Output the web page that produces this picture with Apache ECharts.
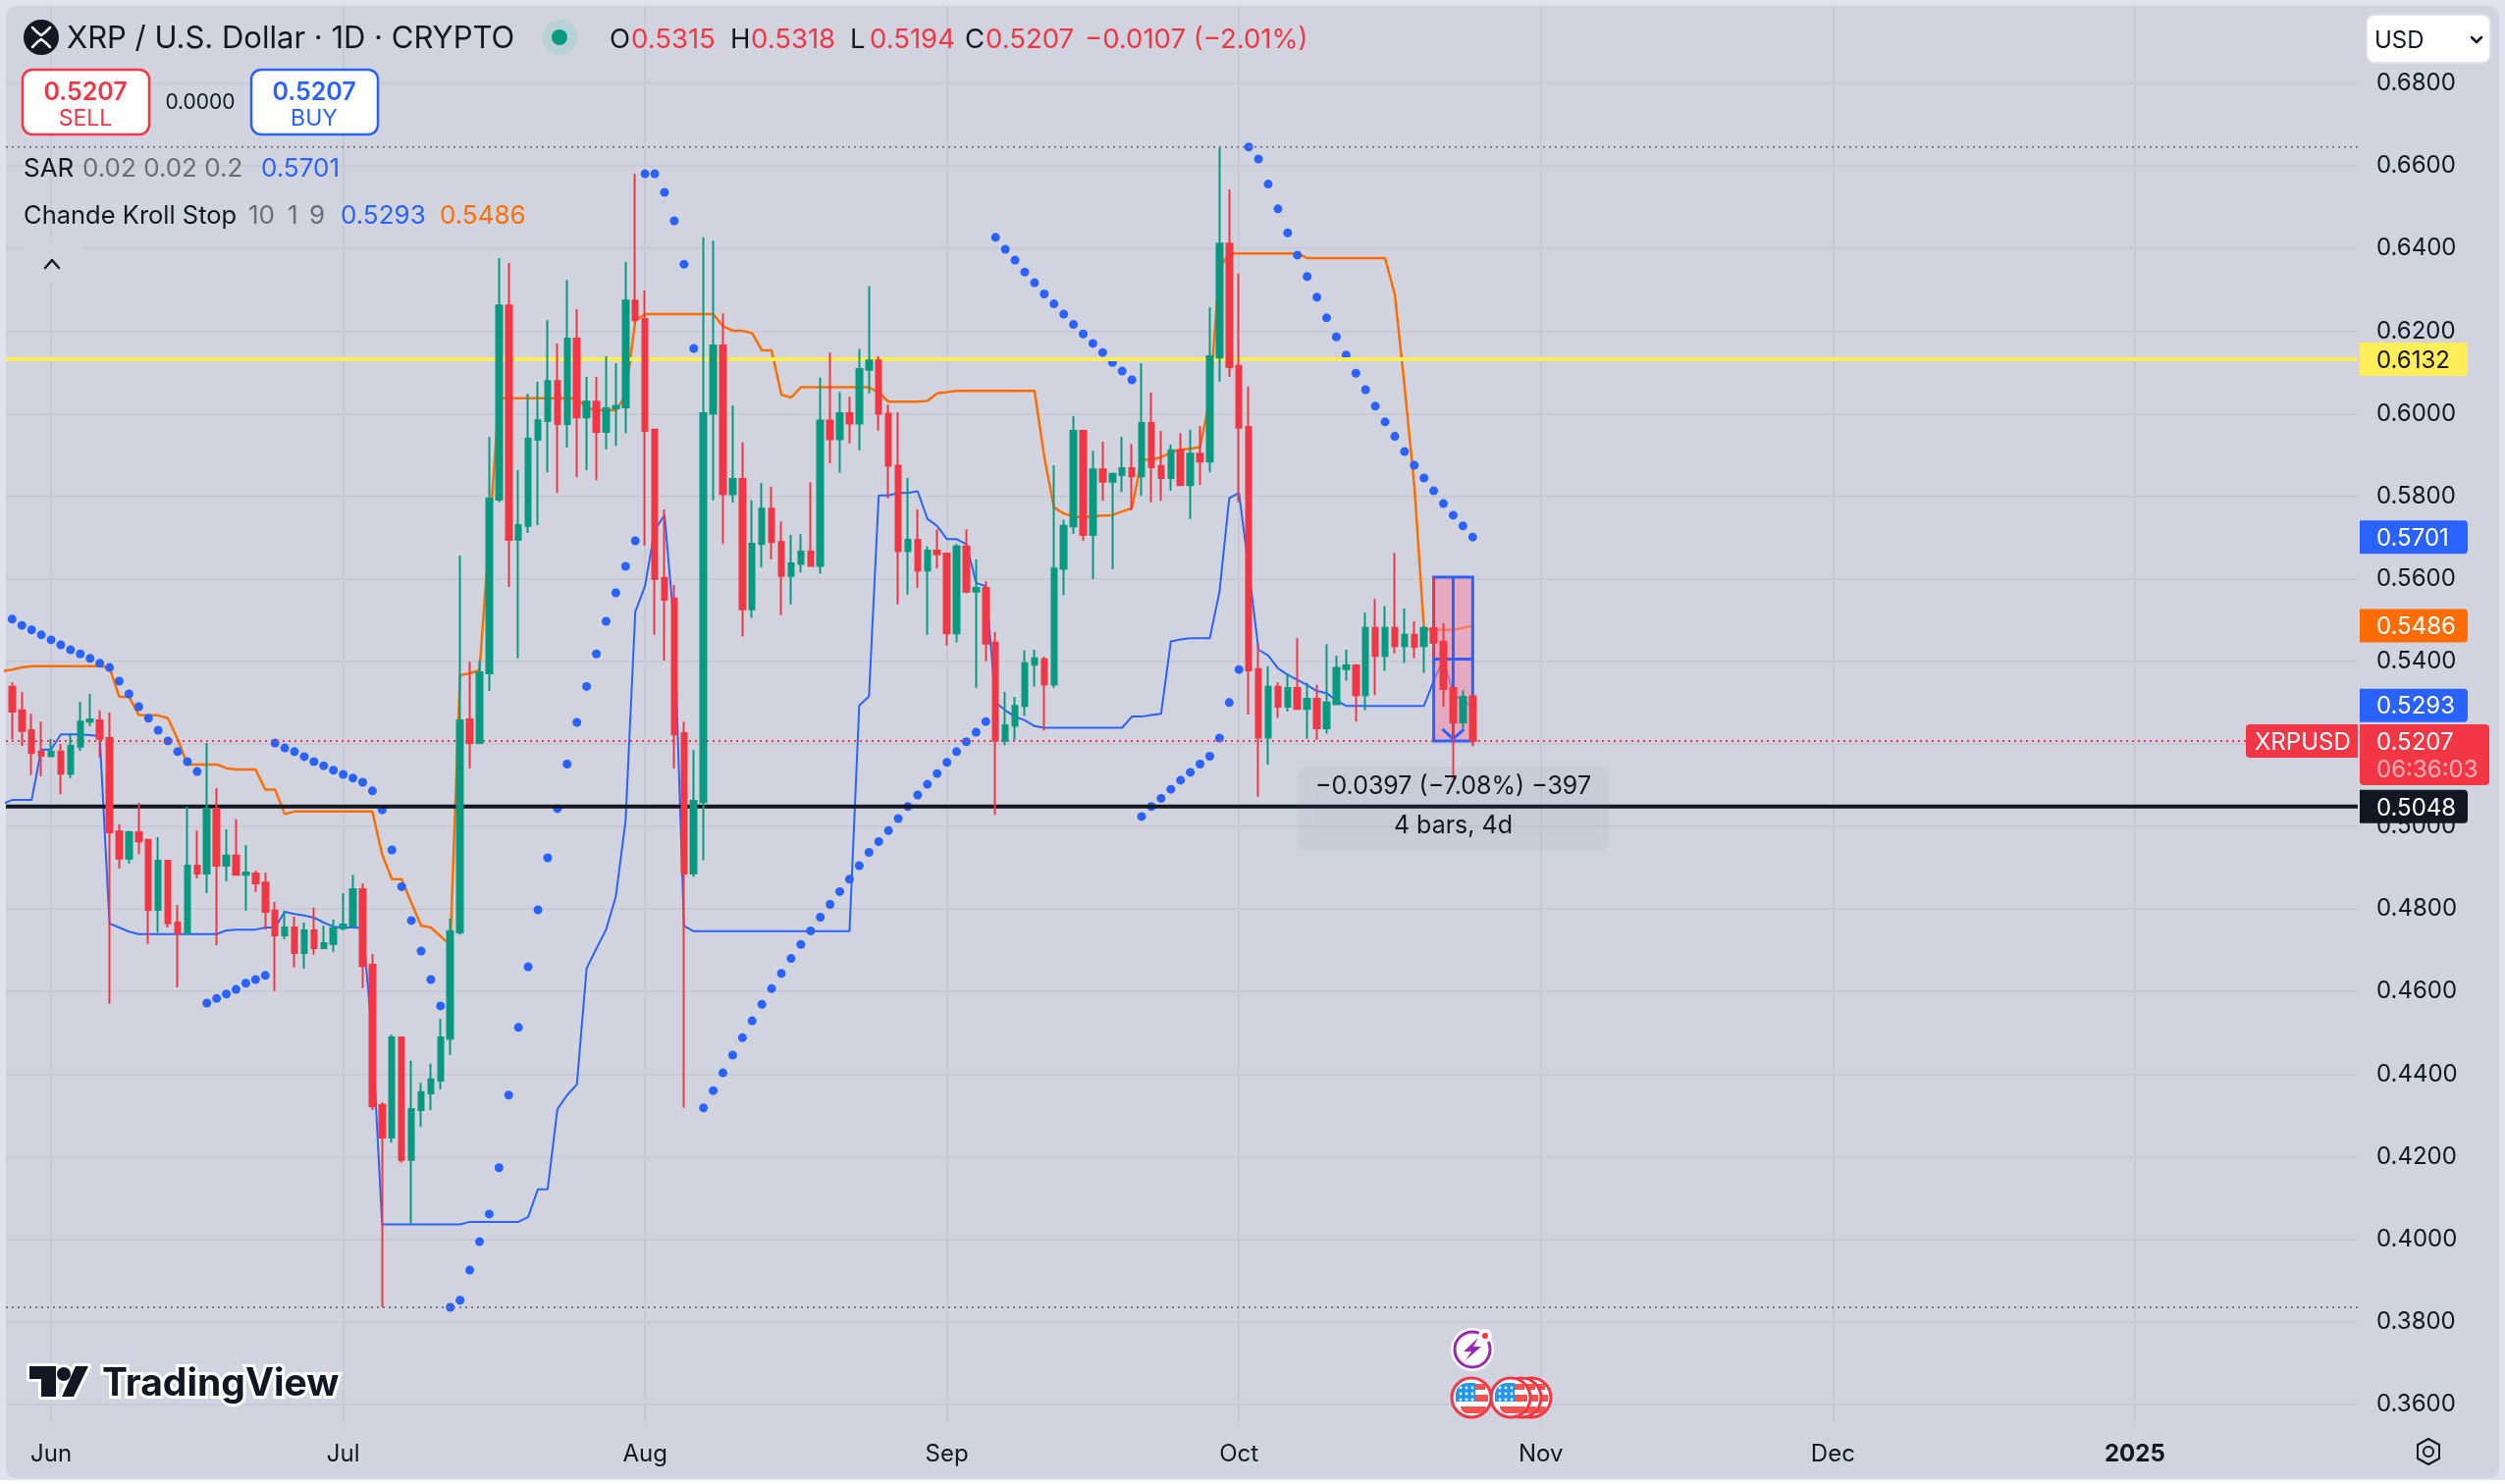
<!DOCTYPE html>
<html>
<head>
<meta charset="utf-8">
<title>XRP / U.S. Dollar</title>
<script src="https://cdn.jsdelivr.net/npm/echarts@6/dist/echarts.min.js"></script>
<style>
html, body { margin: 0; padding: 0; background: #fff; }
#outer { position: absolute; left: 0; top: 0; width: 2552px; height: 1508px; background: #e0e3ed; }
#panel { position: absolute; left: 6px; top: 6px; width: 2540px; height: 1500px; background: #d1d4de; border-radius: 10px; }
#chart { position: absolute; left: 0; top: 0; width: 2552px; height: 1512px; }
</style>
</head>
<body>
<div id="outer"></div>
<div id="panel"></div>
<div id="chart"></div>
<script>
const firstCandleDay = new Date(2024, 4, 28).getTime()
const dayMs = 86400000

const opens = [
    .5338,.5281,.5233,.5181,.5170,.5181,.5128,.5193,.5254,.5257,
    .5214,.4988,.4922,.4986,.4967,.4798,.4917,.4767,.4741,.4905,
    .4886,.5043,.4905,.4929,.4883,.4886,.4864,.4796,.4736,.4755,
    .4693,.4748,.4705,.4715,.4753,.4760,.4848,.4665,.4325,.4246,
    .4489,.4192,.4313,.4353,.4384,.4486,.4743,.5259,.5202,.5371,
    .5792,.6262,.5694,.5728,.5937,.5982,.6079,.5975,.6182,.5991,
    .6029,.5956,.6013,.6015,.6274,.6229,.5961,.5602,.5552,.5226,
    .4886,.5059,.6000,.6165,.5805,.5842,.5526,.5684,.5770,.5689,
    .5607,.5636,.5666,.5631,.5983,.5938,.6001,.5976,.6106,.6129,
    .6000,.5874,.5667,.5694,.5620,.5668,.5661,.5468,.5678,.5569,
    .5578,.5445,.5208,.5244,.5292,.5392,.5405,.5344,.5624,.5727,
    .5958,.5706,.5865,.5835,.5851,.5868,.5848,.5977,.5873,.5844,
    .5911,.5827,.5903,.5884,.6136,.6412,.6116,.5968,.5381,.5215,
    .5338,.5290,.5335,.5285,.5309,.5238,.5296,.5381,.5390,.5318,
    .5481,.5413,.5481,.5437,.5464,.5437,.5480,.5447,.5335,.5252,.5315
]
const highs = [
    .5349,.5326,.5273,.5254,.5212,.5200,.5226,.5302,.5321,.5281,
    .5276,.5005,.4990,.5057,.4967,.4974,.4917,.4810,.5048,.4990,
    .5202,.5093,.4993,.5017,.4955,.4893,.4888,.4817,.4796,.4781,
    .4767,.4803,.4760,.4774,.4838,.4883,.4862,.4691,.4332,.4496,
    .4489,.4432,.4379,.4425,.4534,.4777,.5656,.5399,.5402,.5944,
    .6377,.6365,.5863,.6048,.6077,.6227,.6170,.6324,.6253,.6089,
    .6089,.6139,.6122,.6367,.6581,.6298,.5963,.5768,.5585,.5254,
    .5185,.6427,.6419,.6243,.6020,.5931,.5790,.5832,.5823,.5739,
    .5706,.5708,.5834,.6087,.6148,.6053,.6041,.6157,.6309,.6139,
    .6022,.6004,.5844,.5768,.5678,.5719,.5663,.5684,.5720,.5647,
    .5594,.5471,.5326,.5314,.5426,.5428,.5411,.5875,.5743,.5994,
    .5958,.5910,.5932,.5854,.5944,.5927,.6122,.6051,.5958,.5925,
    .5953,.5961,.5970,.6258,.6644,.6543,.6339,.6066,.5443,.5388,
    .5349,.5371,.5456,.5348,.5343,.5441,.5414,.5428,.5393,.5518,
    .5551,.5534,.5663,.5528,.5497,.5485,.5603,.5492,.5338,.5330,.5318
]
const lows = [
    .5211,.5195,.5124,.5121,.5169,.5078,.5117,.5183,.5243,.5166,
    .4570,.4898,.4910,.4933,.4715,.4743,.4755,.4610,.4738,.4874,
    .4838,.4712,.4867,.4881,.4796,.4841,.4750,.4601,.4727,.4658,
    .4655,.4689,.4705,.4696,.4748,.4755,.4608,.4313,.3835,.4234,
    .4185,.4036,.4272,.4313,.4363,.4446,.4738,.5140,.5202,.5328,
    .5785,.5580,.5407,.5711,.5730,.5858,.5808,.5918,.5846,.5863,
    .5839,.5913,.5922,.5953,.6221,.5680,.5464,.5402,.5140,.4318,
    .4878,.4918,.5790,.5684,.5784,.5460,.5505,.5628,.5647,.5512,
    .5538,.5615,.5631,.5612,.5879,.5857,.5928,.5911,.6049,.5959,
    .5795,.5538,.5562,.5578,.5464,.5625,.5438,.5446,.5565,.5336,
    .5400,.5028,.5197,.5209,.5268,.5339,.5232,.5336,.5560,.5709,
    .5692,.5599,.5789,.5623,.5810,.5766,.5801,.5785,.5789,.5813,
    .5827,.5745,.5827,.5858,.6078,.6089,.5785,.5271,.5072,.5150,
    .5262,.5278,.5285,.5212,.5210,.5225,.5294,.5353,.5254,.5281,
    .5318,.5377,.5419,.5396,.5407,.5372,.5409,.5290,.5116,.5238,.5194
]
const closes = [
    .5278,.5231,.5178,.5171,.5181,.5128,.5195,.5254,.5259,.5212,
    .4986,.4922,.4986,.4964,.4798,.4917,.4765,.4741,.4905,.4886,
    .5043,.4905,.4929,.4883,.4888,.4862,.4793,.4736,.4755,.4693,
    .4748,.4705,.4717,.4753,.4762,.4848,.4662,.4322,.4246,.4489,
    .4192,.4315,.4356,.4387,.4489,.4746,.5257,.5202,.5373,.5794,
    .6262,.5694,.5730,.5939,.5984,.6079,.5975,.6182,.5991,.6029,
    .5956,.6013,.6018,.6274,.6227,.5958,.5599,.5549,.5223,.4886,
    .5062,.6001,.6165,.5805,.5842,.5526,.5685,.5770,.5689,.5607,
    .5637,.5666,.5631,.5983,.5938,.6001,.5976,.6108,.6129,.6000,
    .5874,.5667,.5694,.5620,.5668,.5659,.5468,.5678,.5569,.5578,
    .5443,.5208,.5245,.5292,.5395,.5407,.5344,.5625,.5728,.5958,
    .5706,.5865,.5835,.5854,.5868,.5848,.5977,.5870,.5844,.5911,
    .5827,.5903,.5884,.6139,.6412,.6113,.5966,.5378,.5215,.5338,
    .5290,.5335,.5285,.5309,.5238,.5300,.5384,.5390,.5318,.5481,
    .5413,.5481,.5437,.5464,.5435,.5481,.5445,.5333,.5252,.5314,.5207
]
// indicators start one day before the first candle
const sarValues = [
    .5516,.5502,.5487,.5476,.5464,.5452,.5440,.5428,.5418,.5407,.5395,
    .5385,.5352,.5321,.5290,.5262,.5233,.5207,.5181,.5157,.5133,
    .4572,.4583,.4594,.4605,.4620,.4629,.4639,.5202,.5190,.5181,
    .5169,.5157,.5147,.5136,.5126,.5117,.5107,.5086,.5040,.4943,
    .4854,.4772,.4698,.4629,.4565,.3835,.3852,.3925,.3994,.4061,
    .4173,.4349,.4513,.4660,.4798,.4924,.5043,.5151,.5252,.5339,
    .5418,.5497,.5566,.5630,.5692,.6581,.6581,.6536,.6467,.6362,
    .6158,.4318,.4360,.4403,.4446,.4488,.4529,.4569,.4607,.4644,
    .4680,.4714,.4747,.4780,.4811,.4842,.4872,.4905,.4937,.4963,
    .4990,.5019,.5048,.5076,.5102,.5128,.5155,.5181,.5205,.5228,
    .5254,.6427,.6398,.6372,.6343,.6317,.6290,.6266,.6241,.6216,
    .6193,.6170,.6148,.6124,.6103,.6082,.5024,.5048,.5068,.5090,
    .5112,.5131,.5151,.5170,.5214,.5300,.5380,.6646,.6617,.6556,
    .6496,.6438,.6384,.6332,.6282,.6232,.6186,.6142,.6098,.6058,
    .6018,.5980,.5945,.5908,.5875,.5844,.5813,.5782,.5754,.5728,.5701
]
const shortStop = [
    .5376,.5380,.5385,.5388,.5388,.5388,.5388,.5388,.5388,.5388,.5388,
    .5385,.5314,.5314,.5270,.5269,.5269,.5262,.5211,.5150,.5150,
    .5150,.5150,.5141,.5138,.5138,.5138,.5089,.5089,.5030,.5036,
    .5036,.5036,.5036,.5036,.5036,.5036,.5036,.5036,.4932,.4872,
    .4872,.4815,.4760,.4755,.4734,.4712,.5366,.5371,.5378,.5702,
    .6037,.6037,.6037,.6037,.6037,.6037,.6037,.6037,.6037,.6014,
    .6008,.6008,.6008,.6043,.6225,.6241,.6241,.6241,.6241,.6241,
    .6241,.6241,.6241,.6212,.6201,.6201,.6195,.6153,.6153,.6046,
    .6039,.6064,.6064,.6064,.6064,.6064,.6064,.6064,.6064,.6051,
    .6029,.6029,.6029,.6029,.6031,.6049,.6052,.6055,.6055,.6055,
    .6055,.6055,.6055,.6055,.6055,.6055,.5896,.5773,.5758,.5751,
    .5749,.5751,.5753,.5754,.5763,.5771,.5888,.5888,.5894,.5906,
    .5913,.5915,.5919,.6035,.6354,.6388,.6388,.6388,.6388,.6388,
    .6388,.6388,.6388,.6377,.6377,.6377,.6377,.6377,.6377,.6377,
    .6377,.6377,.6289,.6067,.5828,.5478,.5476,.5476,.5476,.5481,.5486
]
const longStop = [
    .5054,.5064,.5064,.5064,.5186,.5186,.5223,.5223,.5223,.5221,.5219,
    .4765,.4755,.4745,.4739,.4739,.4739,.4739,.4739,.4739,.4739,
    .4739,.4739,.4748,.4750,.4750,.4750,.4755,.4755,.4793,.4788,
    .4784,.4779,.4767,.4757,.4755,.4755,.4754,.4490,.4036,.4036,
    .4036,.4036,.4036,.4036,.4036,.4036,.4036,.4042,.4042,.4042,
    .4042,.4042,.4042,.4054,.4121,.4121,.4315,.4349,.4375,.4656,
    .4704,.4750,.4830,.5013,.5520,.5583,.5718,.5754,.5484,.4759,
    .4746,.4746,.4746,.4746,.4746,.4746,.4746,.4746,.4746,.4746,
    .4746,.4746,.4746,.4746,.4746,.4746,.4746,.5293,.5315,.5802,
    .5802,.5808,.5808,.5812,.5745,.5728,.5696,.5696,.5684,.5590,
    .5582,.5300,.5281,.5266,.5257,.5243,.5239,.5239,.5239,.5239,
    .5239,.5239,.5239,.5239,.5239,.5266,.5266,.5270,.5273,.5448,
    .5453,.5456,.5456,.5456,.5569,.5795,.5808,.5624,.5428,.5414,
    .5383,.5367,.5355,.5342,.5328,.5323,.5305,.5292,.5292,.5292,
    .5292,.5292,.5292,.5292,.5292,.5292,.5353,.5405,.5322,.5302,.5293
]

const priceTicks = [.36,.38,.40,.42,.44,.46,.48,.50,.52,.54,.56,.58,.60,.62,.64,.66,.68]
const monthTicks = ['2024-06-01','2024-07-01','2024-08-01','2024-09-01','2024-10-01','2024-11-01','2024-12-01','2025-01-01']
const monthLabels = ['Jun','Jul','Aug','Sep','Oct','Nov','Dec','2025']

const lastPrice = 0.5207
const yellowLevel = 0.6132
const blackLevel = 0.5048
const highLevel = 0.6646
const lowLevel = 0.3835
const tagValues = [0.6132, 0.5701, 0.5486, 0.5293, 0.5048]
const tagFills = ['#ffee58', '#2962ff', '#ff6d00', '#2962ff', '#131722']
const tagInks = ['#131722', '#fff', '#fff', '#fff', '#fff']

// date and price range drawing
const rangeDays = [146, 150]
const rangePrices = [0.5604, 0.5207]

const FONT = 'Inter, "Noto Sans", sans-serif'
const RED = '#f23645'
const GREEN = '#089981'
const BLUE = '#2962ff'
const ORANGE = '#ff6d00'
const INK = '#131722'

const xMin = new Date(2024, 5, 1).getTime() - 4.64 * dayMs
const xMax = new Date(2024, 5, 1).getTime() + 236.9 * dayMs
const yMin = 0.35543
const yMax = 0.69878
const monthTimes = monthTicks.map(d => new Date(d + 'T00:00:00').getTime())

function dayAt(i) { return firstCandleDay + i * dayMs }

const candleRows = opens.map((o, i) => [dayAt(i), o, closes[i], lows[i], highs[i]])
const pairs = arr => arr.map((v, i) => [dayAt(i - 1), v])

function levelSeries(value, color, width, type, z) {
    return {
        type: 'line', z: z, silent: true, symbol: 'none', animation: false,
        lineStyle: { color: color, width: width, type: type },
        data: [[xMin, value], [xMax, value]]
    }
}

function txt(x, y, text, size, color, weight, align) {
    return {
        type: 'text', z: 100, silent: true,
        style: {
            x: x, y: y, text: text, fill: color || INK,
            font: (weight || 400) + ' ' + size + 'px ' + FONT,
            align: align || 'left', verticalAlign: 'middle'
        }
    }
}
function box(x, y, w, h, r, fill, stroke, lw) {
    return {
        type: 'rect', z: 99, silent: true, shape: { x: x, y: y, width: w, height: h, r: r },
        style: { fill: fill, stroke: stroke || null, lineWidth: lw || 0 }
    }
}
function dot(x, y, r, fill, stroke, lw, z) {
    return {
        type: 'circle', z: z || 99, silent: true, shape: { cx: x, cy: y, r: r },
        style: { fill: fill, stroke: stroke || null, lineWidth: lw || 0 }
    }
}
function polyline(points, color, lw, z) {
    return {
        type: 'polyline', z: z || 100, silent: true, shape: { points: points },
        style: { stroke: color, lineWidth: lw, fill: null, lineCap: 'round', lineJoin: 'round' }
    }
}
function polygon(points, fill, stroke, lw, z) {
    return {
        type: 'polygon', z: z || 100, silent: true, shape: { points: points },
        style: { fill: fill, stroke: stroke || null, lineWidth: lw || 0, lineJoin: 'round' }
    }
}

function flag(cx, cy, z) {
    let parts = [
        dot(cx, cy, 20, '#fff', RED, 3, z),
        box(cx - 16, cy - 15, 20, 19, [12, 0, 0, 0], '#2196f3'),
        box(cx + 4, cy - 14, 10, 6, 0, '#ef5350'),
        box(cx + 4, cy - 3, 13, 7, 0, '#ef5350'),
        box(cx - 11, cy + 9, 26, 7, [0, 0, 8, 8], '#ef5350')
    ]
    parts.forEach(p => { p.z = z })
    for (let a = 0; a < 3; a++) {
        for (let b = 0; b < 3; b++) {
            parts.push(dot(cx - 11 + a * 6, cy - 10 + b * 6, 1.4, '#fff', null, 0, z))
        }
    }
    return parts
}

const headerGraphics = [
    // symbol title
    dot(42, 38, 18, INK),
    polyline([[33, 28], [38, 33], [42, 36], [46, 33], [51, 28]], '#fff', 2.5),
    polyline([[33, 48], [38, 43], [42, 40], [46, 43], [51, 48]], '#fff', 2.5),
    txt(68, 40, 'XRP / U.S. Dollar · 1D · CRYPTO', 31),
    dot(570, 38, 18, '#b9d2d4'),
    dot(570, 38, 8, GREEN),
    txt(621, 41, 'O', 27.5), txt(643, 41, '0.5315', 27.5, RED),
    txt(744, 41, 'H', 27.5), txt(765, 41, '0.5318', 27.5, RED),
    txt(866, 41, 'L', 27.5), txt(886, 41, '0.5194', 27.5, RED),
    txt(983, 41, 'C', 27.5), txt(1004, 41, '0.5207', 27.5, RED),
    txt(1105, 41, '−0.0107 (−2.01%)', 27.5, RED),
    // sell / buy
    box(23, 71, 129, 66, 10, '#fff', RED, 2.5),
    txt(87, 94, '0.5207', 25, RED, 600, 'center'),
    txt(87, 121, 'SELL', 23, RED, 400, 'center'),
    txt(204, 105, '0.0000', 21, INK, 400, 'center'),
    box(256, 71, 129, 66, 10, '#fff', BLUE, 2.5),
    txt(320, 94, '0.5207', 25, BLUE, 600, 'center'),
    txt(320, 121, 'BUY', 23, BLUE, 400, 'center'),
    // indicator legend
    txt(24, 172, 'SAR', 26),
    txt(84, 172, '0.02 0.02 0.2', 26, '#6a6d78'),
    txt(266, 172, '0.5701', 26, BLUE),
    txt(24, 220, 'Chande Kroll Stop', 25.5),
    txt(253, 220, '10', 26, '#6a6d78'),
    txt(293, 220, '1', 26, '#6a6d78'),
    txt(315, 220, '9', 26, '#6a6d78'),
    txt(347, 220, '0.5293', 26, BLUE),
    txt(448, 220, '0.5486', 26, ORANGE),
    box(24, 246, 58, 42, 6, '#d1d4de'),
    polyline([[46, 273], [53, 265], [60, 273]], INK, 2.5),
    // currency selector
    box(2411, 15, 126, 49, 8, '#fff', '#e0e3eb', 2),
    txt(2419, 42, 'USD', 24),
    polyline([[2518, 38], [2523, 43], [2528, 38]], INK, 2.5),
    // axis settings icon
    polygon([[2474, 1466], [2485, 1472], [2485, 1486], [2474, 1492], [2463, 1486], [2463, 1472]], 'none', INK, 2),
    { type: 'circle', z: 100, silent: true, shape: { cx: 2474, cy: 1479, r: 5 }, style: { fill: 'none', stroke: INK, lineWidth: 2 } },
    // logo
    polygon([[30, 1392], [57, 1392], [57, 1423], [42, 1423], [42, 1405], [30, 1405]], INK, '#fff', 6, 98),
    dot(65, 1400, 7, INK, '#fff', 6, 98),
    polygon([[77, 1392], [90, 1392], [75, 1423], [63, 1423]], INK, '#fff', 6, 98),
    polygon([[30, 1392], [57, 1392], [57, 1423], [42, 1423], [42, 1405], [30, 1405]], INK),
    dot(65, 1400, 7, INK, null, 0, 100),
    polygon([[77, 1392], [90, 1392], [75, 1423], [63, 1423]], INK),
    {
        type: 'text', z: 100, silent: true,
        style: {
            x: 104, y: 1410, text: 'TradingView', fill: INK, stroke: '#fff', lineWidth: 6,
            font: '700 39px ' + FONT, align: 'left', verticalAlign: 'middle'
        }
    },
    // event markers
    dot(1500, 1375, 22, '#fff', null, 0, 96),
    dot(1500, 1375, 18, '#fff', '#9c27b0', 3, 97),
    polygon([[1506, 1363], [1491, 1377], [1499, 1377], [1493, 1386], [1509, 1372], [1501, 1372]], '#9c27b0', null, 0, 98),
    dot(1513, 1361, 5, RED, '#fff', 4, 98)
].concat(flag(1560, 1424, 90), flag(1550, 1424, 91), flag(1539, 1424, 92), flag(1499, 1424, 93))

const option = {
    animation: false,
    backgroundColor: 'transparent',
    textStyle: { fontFamily: FONT },
    grid: { left: 6, top: 6, width: 2396, height: 1444, containLabel: false },
    xAxis: {
        type: 'value', min: xMin, max: xMax,
        axisLine: { show: false },
        axisTick: { show: false, customValues: monthTimes },
        splitLine: { show: true, lineStyle: { color: '#c8cbd6', width: 2 } },
        axisLabel: {
            customValues: monthTimes,
            margin: 20, fontSize: 24, color: INK, fontFamily: FONT, hideOverlap: false,
            rich: { b: { fontSize: 24, fontWeight: 700, color: INK, fontFamily: FONT } },
            formatter: function (value) {
                const label = monthLabels[monthTimes.indexOf(value)]
                return label === '2025' ? '{b|2025}' : label
            }
        }
    },
    yAxis: {
        type: 'value', position: 'right', min: yMin, max: yMax, scale: true,
        axisLine: { show: false },
        axisTick: { show: false, customValues: priceTicks },
        splitLine: { show: true, lineStyle: { color: '#c8cbd6', width: 2 } },
        axisLabel: {
            customValues: priceTicks, margin: 19, fontSize: 24, color: INK, fontFamily: FONT,
            padding: [3, 0, 0, 0],
            formatter: v => v.toFixed(4)
        }
    },
    graphic: { elements: headerGraphics },
    series: [
        {
            name: 'SAR', type: 'scatter', z: 1, symbolSize: 9, silent: true,
            itemStyle: { color: BLUE, opacity: 1 },
            data: pairs(sarValues)
        },
        {
            name: 'Short Stop', type: 'line', z: 1, symbol: 'none', silent: true,
            lineStyle: { color: ORANGE, width: 2.5 },
            data: pairs(shortStop)
        },
        {
            name: 'Long Stop', type: 'line', z: 1, symbol: 'none', silent: true,
            lineStyle: { color: BLUE, width: 2 },
            data: pairs(longStop)
        },
        levelSeries(yellowLevel, '#ffee58', 4, 'solid', 2),
        levelSeries(blackLevel, INK, 4, 'solid', 2),
        levelSeries(highLevel, '#787b86', 2, [2, 4], 2),
        levelSeries(lowLevel, '#787b86', 2, [2, 4], 2),
        levelSeries(lastPrice, RED, 2, [2, 4], 2),
        {
            // measure box sits over the stops and under the candles
            name: 'Range', type: 'custom', z: 3, silent: true, clip: false,
            encode: { x: [0, 1], y: [2, 3] },
            data: [[dayAt(rangeDays[0]), dayAt(rangeDays[1]), rangePrices[0], rangePrices[1]]],
            renderItem: function (params, api) {
                const tl = api.coord([api.value(0), api.value(2)])
                const br = api.coord([api.value(1), api.value(3)])
                const midX = (tl[0] + br[0]) / 2
                const midY = (tl[1] + br[1]) / 2
                const line = (x1, y1, x2, y2) => ({
                    type: 'line', shape: { x1: x1, y1: y1, x2: x2, y2: y2 },
                    style: { stroke: BLUE, lineWidth: 3, fill: null }
                })
                return {
                    type: 'group',
                    children: [
                        {
                            type: 'rect', shape: { x: tl[0], y: tl[1], width: br[0] - tl[0], height: br[1] - tl[1] },
                            style: { fill: 'rgba(247,134,167,.55)', stroke: BLUE, lineWidth: 3 }
                        },
                        line(midX, tl[1], midX, br[1]),
                        line(tl[0], midY, br[0], midY),
                        {
                            type: 'polyline', shape: { points: [[midX - 11, br[1] - 12], [midX, br[1] - 2], [midX + 11, br[1] - 12]] },
                            style: { stroke: BLUE, lineWidth: 3, fill: null }
                        }
                    ]
                }
            }
        },
        {
            name: 'XRPUSD', type: 'candlestick', z: 4, silent: true,
            barWidth: 6,
            encode: { x: 0, y: [1, 2, 3, 4] },
            itemStyle: { color: GREEN, color0: RED, borderColor: GREEN, borderColor0: RED, borderWidth: 2 },
            data: candleRows
        },
        {
            name: 'Range label', type: 'custom', z: 5, silent: true, clip: false,
            encode: { x: 0, y: 1 },
            data: [[(dayAt(rangeDays[0]) + dayAt(rangeDays[1])) / 2, rangePrices[1]]],
            renderItem: function (params, api) {
                const p = api.coord([api.value(0), api.value(1)])
                return {
                    type: 'group',
                    children: [
                        {
                            type: 'rect', shape: { x: p[0] - 159, y: p[1] + 26, width: 318, height: 86, r: 10 },
                            style: { fill: 'rgba(120,122,150,.08)', shadowBlur: 14, shadowColor: 'rgba(120,122,150,.1)' }
                        },
                        {
                            type: 'text',
                            style: { x: p[0], y: p[1] + 47, text: '−0.0397 (−7.08%) −397', fill: INK, font: '400 25px ' + FONT, align: 'center', verticalAlign: 'middle' }
                        },
                        {
                            type: 'text',
                            style: { x: p[0], y: p[1] + 87, text: '4 bars, 4d', fill: INK, font: '400 25px ' + FONT, align: 'center', verticalAlign: 'middle' }
                        }
                    ]
                }
            }
        },
        {
            name: 'Price tags', type: 'custom', z: 6, silent: true, clip: false,
            encode: { x: 0, y: 1 },
            data: tagValues.map(v => [xMax, v]),
            renderItem: function (params, api) {
                const y = api.coord([xMax, api.value(1)])[1]
                const i = params.dataIndex
                return {
                    type: 'group',
                    children: [
                        { type: 'rect', shape: { x: 2404, y: y - 17, width: 110, height: 34, r: [0, 4, 4, 0] }, style: { fill: tagFills[i] } },
                        {
                            type: 'text',
                            style: { x: 2421, y: y + 1.5, text: api.value(1).toFixed(4), fill: tagInks[i], font: '400 24px ' + FONT, align: 'left', verticalAlign: 'middle' }
                        }
                    ]
                }
            }
        },
        {
            name: 'Last price tag', type: 'custom', z: 7, silent: true, clip: false,
            encode: { x: 0, y: 1 },
            data: [[xMax, lastPrice]],
            renderItem: function (params, api) {
                const y = api.coord([xMax, api.value(1)])[1]
                return {
                    type: 'group',
                    children: [
                        { type: 'rect', shape: { x: 2288, y: y - 17, width: 114, height: 34, r: [4, 0, 0, 4] }, style: { fill: RED } },
                        { type: 'text', style: { x: 2297, y: y + 1.5, text: 'XRPUSD', fill: '#fff', font: '400 24px ' + FONT, align: 'left', verticalAlign: 'middle' } },
                        { type: 'rect', shape: { x: 2404, y: y - 17, width: 132, height: 62, r: [0, 4, 4, 4] }, style: { fill: RED } },
                        { type: 'text', style: { x: 2421, y: y + 1.5, text: api.value(1).toFixed(4), fill: '#fff', font: '400 24px ' + FONT, align: 'left', verticalAlign: 'middle' } },
                        { type: 'text', style: { x: 2421, y: y + 30, text: '06:36:03', fill: 'rgba(255,255,255,.6)', font: '400 24px ' + FONT, align: 'left', verticalAlign: 'middle' } }
                    ]
                }
            }
        }
    ]
}

const chart = echarts.init(document.getElementById('chart'))
chart.setOption(option)
</script>
</body>
</html>
